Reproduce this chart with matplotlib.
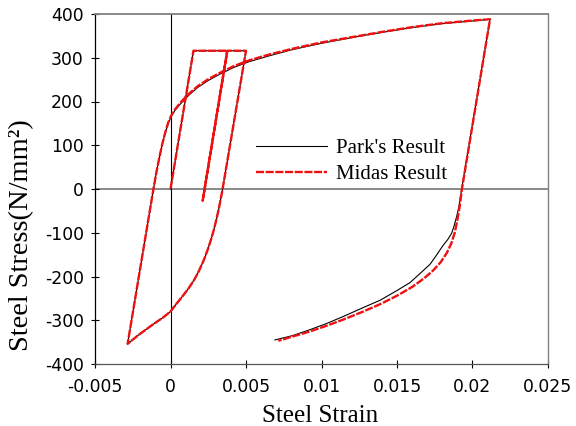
import matplotlib
matplotlib.use("Agg")
import matplotlib.pyplot as plt

# Shared part of the loop (strain, stress): first cycles and reload to peak
loop_strain = [0.0, 0.00152, 0.00376, 0.00213, 0.00376, 0.00500,
               0.00345, 0.00333, 0.00320, 0.00305, 0.00288, 0.00268, 0.00245, 0.00220,
               0.00190, 0.00160, 0.00120, 0.00080, 0.00040, 0.0, -0.00050, -0.00114,
               -0.00213, -0.00284,
               -0.00113, -0.00095, -0.00075, -0.00055, -0.00035, -0.00015, 0.00005,
               0.00030, 0.00070, 0.00120, 0.00180, 0.00250, 0.00330, 0.00420, 0.00520,
               0.00650, 0.00800, 0.01000, 0.01200, 0.01400, 0.01600, 0.01800, 0.02000,
               0.02116]
park_loop_stress = [0, 316, 316, -27, 316, 316,
                    0, -22, -45, -68, -92, -116, -140, -163,
                    -186, -206, -227, -245, -262, -280, -294, -309,
                    -334, -354,
                    0, 35, 70, 102, 128, 150, 166,
                    180, 196, 214, 232, 248, 263, 278, 291,
                    304, 318, 333, 346, 358, 369, 378, 384,
                    388]
midas_loop_stress = [0, 316, 316, -27, 316, 316,
                     0, -22, -45, -68, -92, -116, -140, -163,
                     -186, -206, -227, -245, -262, -280, -294, -309,
                     -334, -354,
                     0, 35, 70, 102, 129, 152, 168,
                     182, 199, 217, 235, 251, 266, 281, 294,
                     307, 320, 335, 347, 359, 370, 379, 385,
                     388]

# Final unloading branch from the peak
park_tail_strain = [0.01928, 0.01910, 0.01895, 0.01875, 0.01862, 0.01835, 0.01807,
                    0.01760, 0.01719, 0.01650, 0.01586, 0.01500, 0.01390, 0.01270,
                    0.01140, 0.01030, 0.00920, 0.00810, 0.00692]
park_tail_stress = [0, -40, -63, -88, -101, -116, -128,
                    -152, -172, -194, -214, -232, -254, -272,
                    -292, -308, -322, -335, -345]
midas_tail_strain = [0.01930, 0.01915, 0.01902, 0.01884, 0.01860, 0.01830, 0.01790,
                     0.01740, 0.01680, 0.01600, 0.01500, 0.01390, 0.01270, 0.01140,
                     0.01030, 0.00920, 0.00810, 0.00714]
midas_tail_stress = [0, -40, -66, -98, -124, -146, -167,
                     -186, -204, -224, -244, -263, -281, -299,
                     -313, -326, -337, -347]

park_strain = loop_strain + park_tail_strain
park_stress = park_loop_stress + park_tail_stress
midas_strain = loop_strain + midas_tail_strain
midas_stress = midas_loop_stress + midas_tail_stress

x_ticks = [-0.005, 0, 0.005, 0.01, 0.015, 0.02, 0.025]
x_tick_labels = ["-0.005", "0", "0.005", "0.01", "0.015", "0.02", "0.025"]
y_ticks = [-400, -300, -200, -100, 0, 100, 200, 300, 400]
y_tick_labels = ["-400", "-300", "-200", "-100", "0", "100", "200", "300", "400"]

fig = plt.figure(figsize=(5.76, 4.26), dpi=100)
ax = fig.add_axes([95/576, 62/426, 453/576, 350/426])

gray = "#808080"
ax.axhline(0, color=gray, lw=1.3, zorder=1)
ax.axvline(0, color="black", lw=0.8, zorder=1)

ax.plot(park_strain, park_stress, color="black", lw=0.8, label="Park's Result", zorder=2)
ax.plot(midas_strain, midas_stress, color="#ee1111", lw=1.7, dashes=(3.4, 0.7),
        label="Midas Result", zorder=3)

ax.set_xlim(-0.005, 0.025)
ax.set_ylim(-400, 400)
ax.set_xticks(x_ticks)
ax.set_xticklabels(x_tick_labels)
ax.set_yticks(y_ticks)
ax.set_yticklabels(y_tick_labels)

for lab in ax.get_xticklabels() + ax.get_yticklabels():
    lab.set_fontfamily("DejaVu Sans")
    lab.set_fontsize(12.4)

ax.tick_params(axis="both", direction="inout", length=6, width=0.8, colors="black")
ax.tick_params(axis="x", pad=7)
ax.tick_params(axis="y", pad=5)

ax.spines["left"].set_color("black")
ax.spines["left"].set_linewidth(0.9)
ax.spines["bottom"].set_color("#555555")
ax.spines["bottom"].set_linewidth(0.9)
ax.spines["top"].set_color(gray)
ax.spines["top"].set_linewidth(1.3)
ax.spines["right"].set_color(gray)
ax.spines["right"].set_linewidth(1.0)

ax.set_xlabel("Steel Strain", family="Liberation Serif", fontsize=18)
ax.xaxis.set_label_coords(0.497, -0.116)
ax.set_ylabel("Steel Stress(N/mm²)", family="Liberation Serif", fontsize=20.5)
ax.yaxis.set_label_coords(-0.134, 0.369)

leg = ax.legend(loc="upper left", bbox_to_anchor=(0.355, 0.645), frameon=False,
                prop={"family": "Liberation Serif", "size": 15},
                handlelength=3.4, handletextpad=0.45, labelspacing=0.33,
                borderaxespad=0, borderpad=0)

fig.savefig("out.png", dpi=100)
